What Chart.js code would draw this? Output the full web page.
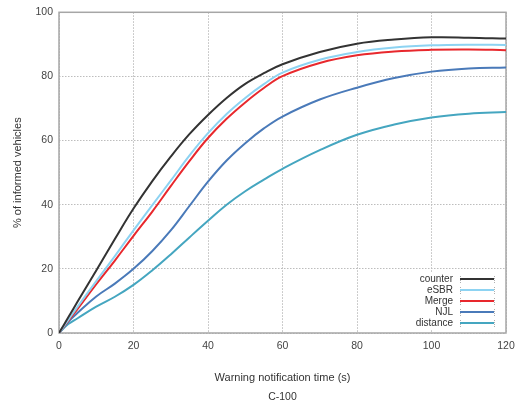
<!DOCTYPE html>
<html>
<head>
<meta charset="utf-8">
<script src="https://cdn.jsdelivr.net/npm/chart.js@4/dist/chart.umd.min.js"></script>
<style>
  html, body { margin: 0; padding: 0; background: #ffffff; }
  #wrap { width: 516px; height: 404px; }
</style>
</head>
<body>
<div id="wrap"><canvas id="c" width="516" height="404"></canvas></div>
<script>
// Warning notification time (s) at which each curve is sampled
const timeSec = [0, 2.5, 5, 10, 15, 20, 25, 30, 35, 40, 45, 50, 55, 60, 70, 80, 90, 100, 110, 120];

// % of informed vehicles per dissemination scheme
const counter  = [0, 4.9, 9.8, 19.5, 29.3, 38.8, 47.3, 55, 62, 68, 73.3, 77.7, 81, 83.8, 87.6, 90.2, 91.5, 92.2, 92.1, 91.8];
const eSBR     = [0, 4.1, 8.2, 16.2, 24, 32, 39.8, 47.5, 55.3, 62.3, 68.3, 73.3, 77.6, 81.2, 85.2, 87.6, 89, 89.7, 89.9, 89.8];
const merge    = [0, 3.8, 7.5, 15.2, 22.6, 30.3, 37.8, 45.8, 53.6, 60.8, 66.8, 71.9, 76.4, 80.1, 84.2, 86.6, 87.8, 88.3, 88.4, 88.2];
const njl      = [0, 3.5, 6.3, 11.4, 15.4, 20, 25.5, 32, 39.6, 47.2, 53.8, 59.2, 63.8, 67.5, 72.8, 76.5, 79.5, 81.5, 82.5, 82.8];
const distance = [0, 2.8, 4.6, 8.2, 11.3, 15, 19.5, 24.5, 29.8, 35, 40, 44.2, 47.8, 51.2, 57, 61.8, 65, 67.2, 68.4, 68.9];

const seriesNames  = ['counter', 'eSBR', 'Merge', 'NJL', 'distance'];
const seriesValues = [counter, eSBR, merge, njl, distance];
const seriesColors = ['#333333', '#8dd3f2', '#e8282d', '#4a7ab9', '#45a6c0'];

const xTicks = [0, 20, 40, 60, 80, 100, 120];
const yTicks = [0, 20, 40, 60, 80, 100];

const FONT = 'Liberation Sans, Arial, Helvetica, sans-serif';

const datasets = seriesNames.map((name, i) => ({
  label: name,
  data: timeSec.map((t, j) => ({ x: t, y: seriesValues[i][j] })),
  borderColor: seriesColors[i],
  backgroundColor: seriesColors[i],
  borderWidth: 2,
  pointRadius: 0,
  fill: false,
  tension: 0.4
}));

// Solid frame round the plot area
const framePlugin = {
  id: 'frame',
  beforeDatasetsDraw(chart) {
    const { ctx, chartArea: a } = chart;
    ctx.save();
    ctx.strokeStyle = '#a6a6a6';
    ctx.lineWidth = 1.5;
    ctx.strokeRect(a.left, a.top, a.right - a.left, a.bottom - a.top);
    ctx.restore();
  }
};

// Key in the lower right corner of the plot
const keyPlugin = {
  id: 'key',
  afterDatasetsDraw(chart) {
    const { ctx, chartArea: a } = chart;
    const textRight = a.right - 53;
    const lineL = a.right - 46;
    const lineR = a.right - 12;
    const rowH = 11;
    const firstY = a.bottom - 54;
    ctx.save();
    ctx.fillStyle = '#ffffff';
    ctx.fillRect(a.right - 100, firstY - 7, 94, rowH * 5 + 3);
    ctx.font = '10px ' + FONT;
    ctx.textAlign = 'right';
    ctx.textBaseline = 'middle';
    chart.data.datasets.forEach((ds, i) => {
      const y = firstY + i * rowH;
      ctx.fillStyle = '#333333';
      ctx.fillText(ds.label, textRight, y);
      ctx.strokeStyle = '#b0b0b0';
      ctx.lineWidth = 1;
      ctx.setLineDash([1, 1]);
      [lineL, lineR].forEach(x => {
        ctx.beginPath();
        ctx.moveTo(x + 0.5, y - 3);
        ctx.lineTo(x + 0.5, y + 4);
        ctx.stroke();
      });
      ctx.setLineDash([]);
      ctx.strokeStyle = ds.borderColor;
      ctx.lineWidth = 2;
      ctx.beginPath();
      ctx.moveTo(lineL, y);
      ctx.lineTo(lineR, y);
      ctx.stroke();
    });
    ctx.restore();
  }
};

new Chart(document.getElementById('c'), {
  type: 'line',
  data: { datasets },
  options: {
    responsive: false,
    animation: false,
    devicePixelRatio: 1,
    layout: { padding: { top: 12, right: 10, left: 0, bottom: 0 } },
    plugins: {
      legend: { display: false },
      tooltip: { enabled: false },
      title: {
        display: true,
        position: 'bottom',
        fullSize: false,
        text: 'C-100',
        color: '#333333',
        font: { family: FONT, size: 10.5, weight: 'normal' },
        padding: { top: 0, bottom: 1 }
      }
    },
    scales: {
      x: {
        type: 'linear',
        min: 0,
        max: 120,
        afterBuildTicks(scale) { scale.ticks = xTicks.map(v => ({ value: v })); },
        afterFit(scale) {
          scale.height = 57.4;
          scale.paddingLeft = 0;
          scale.paddingRight = 0;
        },
        grid: { color: '#bdbdbd', lineWidth: 1, drawTicks: false },
        border: { display: false, dash: [1.5, 1.5] },
        ticks: {
          color: '#444444',
          font: { family: FONT, size: 10.5 },
          padding: 7,
          maxRotation: 0,
          autoSkip: false
        },
        title: {
          display: true,
          text: 'Warning notification time (s)',
          color: '#333333',
          font: { family: FONT, size: 11 },
          padding: { top: 0, bottom: 6 }
        }
      },
      y: {
        type: 'linear',
        min: 0,
        max: 100,
        afterBuildTicks(scale) { scale.ticks = yTicks.map(v => ({ value: v })); },
        afterFit(scale) { scale.width = 59; },
        grid: { color: '#bdbdbd', lineWidth: 1, drawTicks: false },
        border: { display: false, dash: [1.5, 1.5] },
        ticks: {
          color: '#444444',
          font: { family: FONT, size: 10.5 },
          padding: 6
        },
        title: {
          display: true,
          text: '% of informed vehicles',
          color: '#333333',
          font: { family: FONT, size: 11 },
          padding: { top: 11.4, bottom: 0 }
        }
      }
    }
  },
  plugins: [framePlugin, keyPlugin]
});
</script>
</body>
</html>
